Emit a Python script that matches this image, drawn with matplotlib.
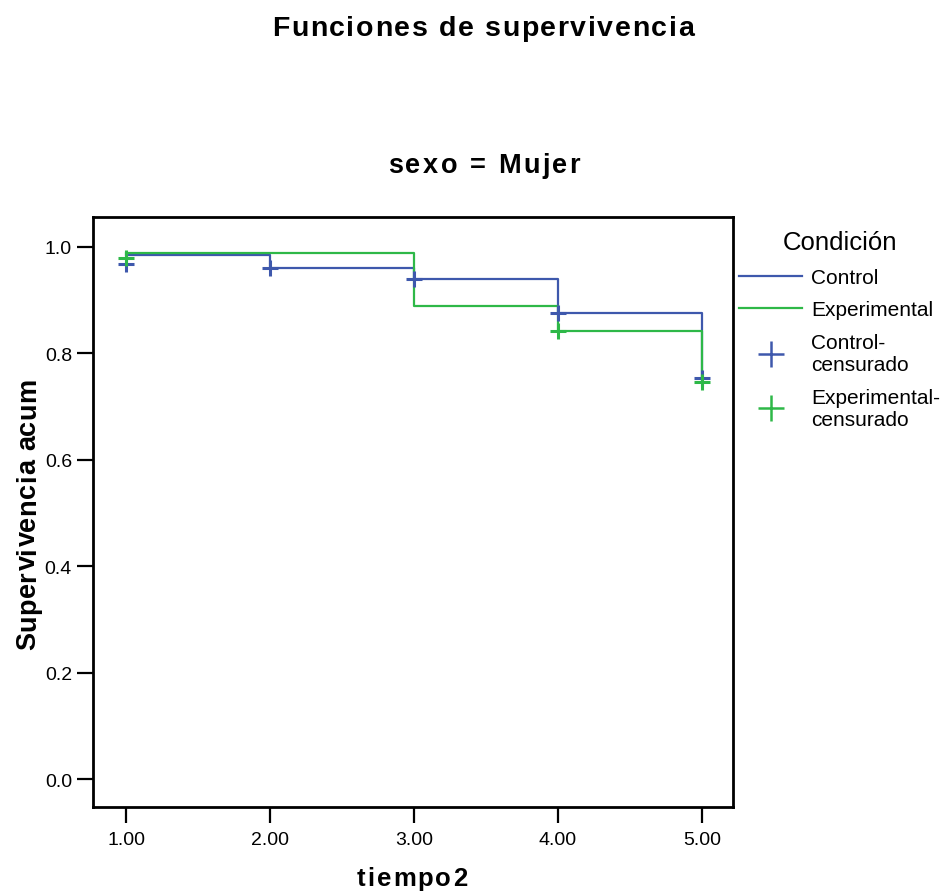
import matplotlib
matplotlib.use('Agg')
import matplotlib.pyplot as plt
from matplotlib.lines import Line2D
from matplotlib.font_manager import FontProperties

plt.rcParams['font.family'] = ['Liberation Sans', 'DejaVu Sans']

# tiempos y supervivencia acumulada
tiempo = [1, 2, 3, 4, 5]
control_surv = [0.984, 0.960, 0.940, 0.876, 0.753]
experimental_surv = [0.989, 0.989, 0.888, 0.842, 0.746]

# casos censurados
control_cens_t = [1, 2, 3, 4, 5]
control_cens_s = [0.968, 0.960, 0.940, 0.876, 0.753]
experimental_cens_t = [1, 4, 5]
experimental_cens_s = [0.979, 0.842, 0.746]

xticks = [1, 2, 3, 4, 5]
yticks = [0.0, 0.2, 0.4, 0.6, 0.8, 1.0]

azul = '#3E58AC'
verde = '#2EB848'

W, H = 946, 895
fig = plt.figure(figsize=(W / 100, H / 100), dpi=100)
ax = fig.add_axes([0.0988, 0.0972, 0.676, 0.6596])


def texto_espaciado(s, x0, base, ancho, size, rot=0):
    # texto con espaciado entre letras (como en SPSS); x0/base/ancho en píxeles
    r = fig.canvas.get_renderer()
    fp = FontProperties(family='Liberation Sans', weight='bold', size=size)
    ancho_nat = lambda t: r.get_text_width_height_descent(t, fp, ismath=False)[0]
    extra = (ancho - ancho_nat(s)) / (len(s) - 1)
    for i, ch in enumerate(s):
        if ch == ' ':
            continue
        off = ancho_nat(s[:i + 1]) - ancho_nat(ch) + i * extra
        if rot == 0:
            pos = ((x0 + off) / W, 1 - base / H)
        else:
            pos = (base / W, 1 - (x0 - off) / H)
        fig.text(*pos, ch, fontproperties=fp, rotation=rot, rotation_mode='anchor',
                 ha='left', va='baseline')


ax.step(tiempo, control_surv, where='post', color=azul, lw=1.6)
ax.step(tiempo, experimental_surv, where='post', color=verde, lw=1.6)
ax.plot(control_cens_t, control_cens_s, ls='none', marker='+', color=azul,
        markersize=11, markeredgewidth=2.2)
ax.plot(experimental_cens_t, experimental_cens_s, ls='none', marker='+', color=verde,
        markersize=11, markeredgewidth=2.2)

ax.set_xlim(0.774, 5.215)
ax.set_ylim(-0.0526, 1.0564)
ax.set_xticks(xticks)
ax.set_xticklabels([f"{t:.2f}" for t in xticks])
ax.set_yticks(yticks)
ax.set_yticklabels([f"{v:.1f}" for v in yticks])
ax.tick_params(length=11.5, width=1.6, labelsize=14, color='black')
ax.tick_params(axis='y', pad=4)
ax.tick_params(axis='x', pad=6)
for s in ax.spines.values():
    s.set_linewidth(2)

# títulos y etiquetas de ejes
texto_espaciado('Funciones de supervivencia', 272, 36.5, 422, 20.5)
texto_espaciado('sexo = Mujer', 388, 173, 192, 19.5)
texto_espaciado('tiempo2', 357, 886, 110, 18.5)
texto_espaciado('Supervivencia acum', 650, 35, 272, 19.5, rot=90)

handles = [
    Line2D([], [], color=azul, lw=1.6),
    Line2D([], [], color=verde, lw=1.6),
    Line2D([], [], color=azul, ls='none', marker='+', markersize=19, markeredgewidth=1.8),
    Line2D([], [], color=verde, ls='none', marker='+', markersize=19, markeredgewidth=1.8),
]
labels = ['Control', 'Experimental', 'Control-\ncensurado', 'Experimental-\ncensurado']
leg = fig.legend(handles, labels, title='Condición', loc='upper left',
                 bbox_to_anchor=(731 / W, 1 - 223 / H), frameon=False,
                 fontsize=15, title_fontsize=18.5, handlelength=3.0, handletextpad=0.43,
                 labelspacing=0.65, borderaxespad=0)
leg._legend_box.align = 'center'

fig.savefig('out.png', dpi=100)
